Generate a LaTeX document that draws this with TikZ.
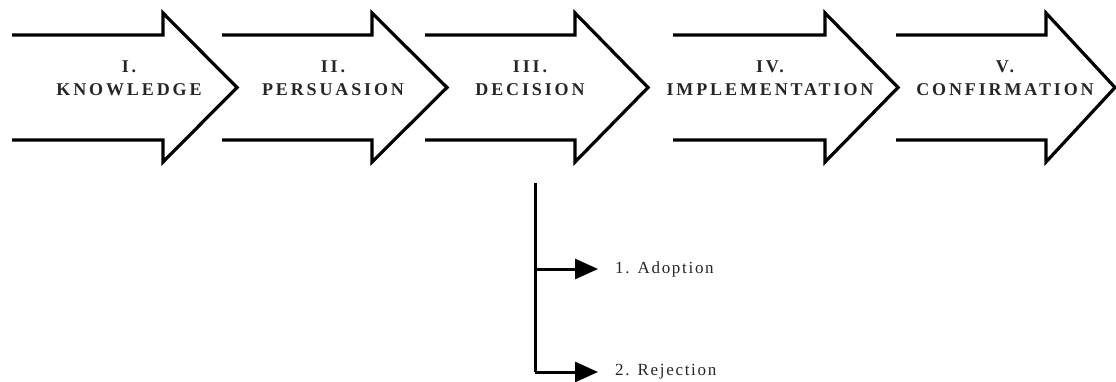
\documentclass[tikz,border=0pt]{standalone}
\usepackage{fontspec}
\setmainfont{Liberation Serif}
\newfontfamily\stagefont[LetterSpace=16]{Liberation Serif}
\newfontfamily\choicefont[LetterSpace=10]{Liberation Serif}
\usetikzlibrary{arrows.meta}
\begin{document}
\begin{tikzpicture}[x=1pt,y=-1pt,
  stagearrow/.style={line width=3.2pt, line join=miter, black},
  stagelabel/.style={align=center, inner sep=0pt, text=black!85, font=\stagefont\bfseries\fontsize{18}{23}\selectfont},
  choicelabel/.style={anchor=west, inner sep=0pt, text=black!85, font=\choicefont\fontsize{17}{19}\selectfont},
  branch/.style={line width=3pt, black},
  branchtip/.style={-{Triangle[length=23pt,width=20pt]}, shorten >=17pt}]
\useasboundingbox (0,0) rectangle (1116,382);

% five stage arrows: open tail, shaft of 150, head of 74
\foreach \xs/\xh/\xt in {12/163/237, 222/372/447, 425/575/648, 673/825/898, 896/1046/1115}{
  \draw[stagearrow] (\xs,35) -- (\xh,35) -- (\xh,13) -- (\xt,87.5) -- (\xh,162) -- (\xh,140) -- (\xs,140);
}

% stage names
\node[stagelabel] (s1) at (129,78) {I.\\KNOWLEDGE};
\node[stagelabel] (s2) at (333,78) {II.\\PERSUASION};
\node[stagelabel] (s3) at (530,78) {III.\\DECISION};
\node[stagelabel] (s4) at (770,78) {IV.\\IMPLEMENTATION};
\node[stagelabel] (s5) at (1005,78) {V.\\CONFIRMATION};

% outcomes of the decision stage
\coordinate (fork) at (535,183);
\node[choicelabel] (adopt) at (615,269) {1. Adoption};
\node[choicelabel] (reject) at (615,372) {2. Rejection};
\draw[branch] (fork) -- (fork |- reject.west);
\draw[branch, branchtip] (fork |- adopt.west) -- (adopt.west);
\draw[branch, branchtip] (fork |- reject.west) -- (reject.west);
\end{tikzpicture}
\end{document}
